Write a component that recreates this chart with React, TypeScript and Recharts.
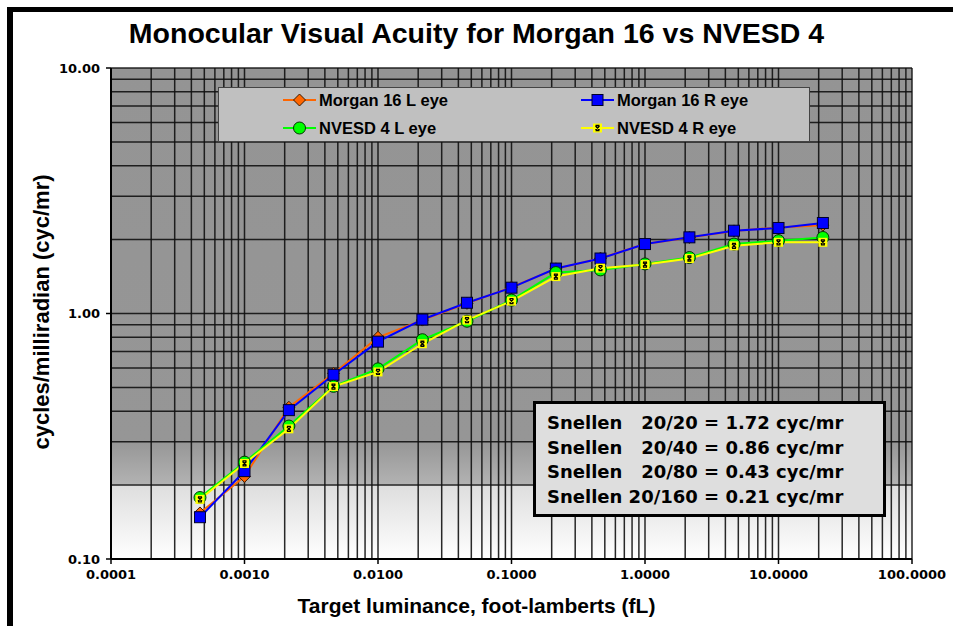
import React from "react";
import {
  LineChart,
  Line,
  XAxis,
  YAxis,
  ReferenceLine,
  ReferenceArea,
} from "recharts";

// luminance steps (fL), one-third decade apart
const luminance = [
  0.000464, 0.001, 0.00215, 0.00464, 0.01, 0.0215, 0.0464, 0.1, 0.215, 0.464,
  1, 2.15, 4.64, 10, 21.5,
];
const morganL = [
  0.154, 0.217, 0.415, 0.57, 0.8, 0.94, 1.1, 1.28, 1.52, 1.68, 1.92, 2.04,
  2.17, 2.24, 2.29,
];
const morganR = [
  0.148, 0.228, 0.404, 0.563, 0.768, 0.945, 1.106, 1.274, 1.524, 1.675, 1.918,
  2.043, 2.174, 2.23, 2.337,
];
const nvesdL = [
  0.178, 0.248, 0.348, 0.505, 0.595, 0.782, 0.93, 1.134, 1.468, 1.505, 1.592,
  1.69, 1.918, 1.98, 2.04,
];
const nvesdR = [
  0.175, 0.245, 0.339, 0.504, 0.578, 0.753, 0.94, 1.123, 1.414, 1.53, 1.583,
  1.675, 1.887, 1.95, 1.95,
];

const xTicks = [0.0001, 0.001, 0.01, 0.1, 1, 10, 100];
const yTicks = [0.1, 1, 10];
const multipliers = [1, 2, 3, 4, 5, 6, 7, 8, 9];

const snellenLines = [
  "Snellen   20/20 = 1.72 cyc/mr",
  "Snellen   20/40 = 0.86 cyc/mr",
  "Snellen   20/80 = 0.43 cyc/mr",
  "Snellen 20/160 = 0.21 cyc/mr",
];

const data = luminance.map((x, i) => ({
  x,
  morganL: morganL[i],
  morganR: morganR[i],
  nvesdL: nvesdL[i],
  nvesdR: nvesdR[i],
}));

const vGrid: number[] = [];
xTicks.slice(0, -1).forEach((d) => multipliers.forEach((m) => vGrid.push(m * d)));
vGrid.push(100);
const hGrid: number[] = [];
yTicks.slice(0, -1).forEach((d) => multipliers.forEach((m) => hGrid.push(m * d)));
hGrid.push(10);

const Diamond = ({ cx, cy }: { cx: number; cy: number }) => (
  <path
    d={`M${cx},${cy - 6} L${cx + 6},${cy} L${cx},${cy + 6} L${cx - 6},${cy} Z`}
    fill="#ff6600"
    stroke="#3a1a00"
    strokeWidth={1}
  />
);
const BlueSquare = ({ cx, cy }: { cx: number; cy: number }) => (
  <rect x={cx - 5.5} y={cy - 5.5} width={11} height={11} fill="#0000ff" stroke="#00002a" strokeWidth={1} />
);
const GreenCircle = ({ cx, cy }: { cx: number; cy: number }) => (
  <circle cx={cx} cy={cy} r={6} fill="#00ff00" stroke="#003300" strokeWidth={1} />
);
const YellowX = ({ cx, cy }: { cx: number; cy: number }) => (
  <g>
    <rect x={cx - 4.5} y={cy - 4.5} width={9} height={9} fill="#ffff00" />
    <path
      d={`M${cx - 2},${cy - 2} L${cx + 2},${cy + 2} M${cx - 2},${cy + 2} L${cx + 2},${cy - 2} M${cx - 2},${cy - 2.5} L${cx + 2},${cy - 2.5} M${cx - 2},${cy + 2.5} L${cx + 2},${cy + 2.5}`}
      stroke="#000"
      strokeWidth={1.3}
    />
  </g>
);

const dotFn = (Shape: React.FC<{ cx: number; cy: number }>) => (props: any) => (
  <g key={`d-${props.index}`}>
    <Shape cx={props.cx} cy={props.cy} />
  </g>
);

const legendItems = [
  { label: "Morgan 16 L eye", color: "#ff6600", shape: Diamond, left: 283, top: 100 },
  { label: "Morgan 16 R eye", color: "#0000ff", shape: BlueSquare, left: 581, top: 100 },
  { label: "NVESD 4 L eye", color: "#00ff00", shape: GreenCircle, left: 283, top: 128 },
  { label: "NVESD 4 R eye", color: "#ffff00", shape: YellowX, left: 581, top: 128 },
];

const tickStyle = {
  fontFamily: "DejaVu Sans",
  fontWeight: "bold" as const,
  fontSize: 13,
  fill: "#000",
};

export default function App() {
  return (
    <div
      style={{
        position: "absolute",
        left: 0,
        top: 0,
        width: 953,
        height: 626,
        background: "#fff",
        overflow: "hidden",
        fontFamily: "'Liberation Sans', Arial, sans-serif",
      }}
    >
      <div
        style={{
          position: "absolute",
          left: 7,
          top: 7,
          width: 1000,
          height: 700,
          borderLeft: "6px solid #000",
          borderTop: "5px solid #000",
        }}
      />
      <div
        style={{
          position: "absolute",
          left: 0,
          width: 953,
          top: 16,
          textAlign: "center",
          fontSize: 28.5,
          fontWeight: "bold",
          lineHeight: "34px",
        }}
      >
        Monocular Visual Acuity for Morgan 16 vs NVESD 4
      </div>

      <div style={{ position: "absolute", left: 0, top: 0 }}>
        <LineChart
          width={953}
          height={626}
          data={data}
          margin={{ top: 68, right: 41, bottom: 37, left: 51 }}
        >
          <defs>
            <linearGradient id="plotBg" x1="0" y1="0" x2="0" y2="1">
              <stop offset="0" stopColor="#949494" />
              <stop offset="0.76" stopColor="#969696" />
              <stop offset="0.847" stopColor="#b2b2b2" />
              <stop offset="0.851" stopColor="#dedede" />
              <stop offset="1" stopColor="#ffffff" />
            </linearGradient>
          </defs>
          <XAxis
            dataKey="x"
            type="number"
            scale="log"
            domain={[0.0001, 100]}
            allowDataOverflow
            ticks={xTicks}
            interval={0}
            tickFormatter={(v: number) => v.toFixed(4)}
            tick={tickStyle}
            tickSize={5}
            tickMargin={6}
            height={30}
            axisLine={{ stroke: "#000", strokeWidth: 2 }}
            tickLine={{ stroke: "#000", strokeWidth: 1.5 }}
          />
          <YAxis
            type="number"
            scale="log"
            domain={[0.1, 10]}
            allowDataOverflow
            ticks={yTicks}
            interval={0}
            tickFormatter={(v: number) => v.toFixed(2)}
            tick={tickStyle}
            tickSize={5}
            tickMargin={6}
            width={60}
            axisLine={{ stroke: "#000", strokeWidth: 2 }}
            tickLine={{ stroke: "#000", strokeWidth: 1.5 }}
          />
          <ReferenceArea
            x1={0.0001}
            x2={100}
            y1={0.1}
            y2={10}
            fill="url(#plotBg)"
            fillOpacity={1}
            stroke="none"
          />
          {vGrid.map((v) => (
            <ReferenceLine key={`v${v}`} x={v} stroke="#111" strokeWidth={1.5} strokeOpacity={0.9} />
          ))}
          {hGrid.map((v) => (
            <ReferenceLine key={`h${v}`} y={v} stroke="#111" strokeWidth={1.5} strokeOpacity={0.9} />
          ))}
          <Line
            dataKey="morganL"
            stroke="#ff6600"
            strokeWidth={2}
            dot={dotFn(Diamond)}
            isAnimationActive={false}
          />
          <Line
            dataKey="morganR"
            stroke="#0000ff"
            strokeWidth={2}
            dot={dotFn(BlueSquare)}
            isAnimationActive={false}
          />
          <Line
            dataKey="nvesdL"
            stroke="#00ff00"
            strokeWidth={2}
            dot={dotFn(GreenCircle)}
            isAnimationActive={false}
          />
          <Line
            dataKey="nvesdR"
            stroke="#ffff00"
            strokeWidth={2}
            dot={dotFn(YellowX)}
            isAnimationActive={false}
          />
        </LineChart>
      </div>

      {/* legend */}
      <div
        style={{
          position: "absolute",
          left: 218,
          top: 87,
          width: 590,
          height: 53,
          background: "#c0c0c0",
          border: "1px solid #444",
        }}
      />
      {legendItems.map((it) => {
        const Shape = it.shape;
        return (
          <div key={it.label}>
            <svg
              style={{ position: "absolute", left: it.left, top: it.top - 8 }}
              width={34}
              height={16}
            >
              <line x1={0} y1={8} x2={33} y2={8} stroke={it.color} strokeWidth={2} />
              <Shape cx={16.5} cy={8} />
            </svg>
            <div
              style={{
                position: "absolute",
                left: it.left + 36,
                top: it.top - 10,
                fontSize: 16.5,
                fontWeight: "bold",
                lineHeight: "20px",
                whiteSpace: "nowrap",
              }}
            >
              {it.label}
            </div>
          </div>
        );
      })}

      {/* Snellen box */}
      <div
        style={{
          position: "absolute",
          left: 533,
          top: 401,
          width: 353,
          height: 116,
          background: "#dedede",
          border: "3px solid #000",
          fontFamily: "'DejaVu Sans', Verdana, sans-serif",
          fontWeight: "bold",
          fontSize: 18,
          lineHeight: "24.5px",
          paddingTop: 7,
          paddingLeft: 11,
          boxSizing: "border-box",
          whiteSpace: "pre",
        }}
      >
        {snellenLines.map((s) => (
          <div key={s}>{s}</div>
        ))}
      </div>

      <div
        style={{
          position: "absolute",
          left: 42,
          top: 312,
          transform: "translate(-50%, -50%) rotate(-90deg)",
          fontSize: 22,
          fontWeight: "bold",
          whiteSpace: "nowrap",
        }}
      >
        cycles/milliradian (cyc/mr)
      </div>
      <div
        style={{
          position: "absolute",
          left: 0,
          width: 953,
          top: 594,
          textAlign: "center",
          fontSize: 21,
          fontWeight: "bold",
          lineHeight: "24px",
        }}
      >
        Target luminance, foot-lamberts (fL)
      </div>
    </div>
  );
}
